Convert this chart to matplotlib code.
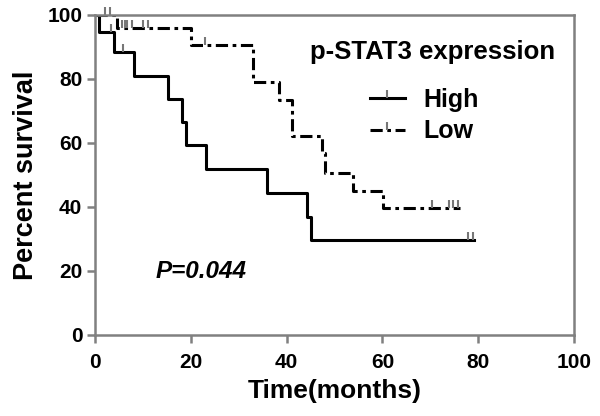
import numpy as np
import matplotlib
matplotlib.use('Agg')
import matplotlib.pyplot as plt
from matplotlib.lines import Line2D
from matplotlib.markers import TICKUP

plt.rcParams['font.family'] = ['Liberation Sans', 'DejaVu Sans']
plt.rcParams['font.weight'] = 'bold'

# Kaplan-Meier curves
times_high = [0, 0.8, 4.0, 8.1, 15.3, 18.1, 19.1, 23.2, 35.9, 44.2, 45.2, 79.0]
surv_high = [100, 94.6, 88.3, 81.0, 73.8, 66.5, 59.2, 51.8, 44.5, 37.0, 29.7, 29.7]
censor_high = [3.3, 5.9, 77.9, 78.9]

times_low = [0, 4.6, 20.0, 33.1, 38.4, 41.1, 47.3, 48.1, 53.9, 60.2, 76.2]
surv_low = [100, 95.8, 90.6, 79.2, 73.4, 62.2, 56.8, 50.7, 45.1, 39.6, 39.6]
censor_low = [2.1, 3.1, 5.6, 6.2, 6.8, 7.8, 10.0, 11.2, 23.0, 70.3, 73.8, 74.8, 75.8]

labels = ['High', 'Low']
legend_title = 'p-STAT3 expression'
x_ticks = [0, 20, 40, 60, 80, 100]
y_ticks = [0, 20, 40, 60, 80, 100]
p_text = 'P=0.044'

GREY = '#808080'
TICKC = '#777777'
DASH = (0, (4, 1.5, 1.2, 1.5))


def step_value(t, times, surv):
    idx = np.searchsorted(times, t, side='right') - 1
    return np.array(surv)[idx]


fig, ax = plt.subplots(figsize=(6, 4.16), dpi=100)
fig.subplots_adjust(left=0.158, right=0.957, bottom=0.195, top=0.964)

ax.step(times_high, surv_high, where='post', color='black', lw=2.2)
ax.step(times_low, surv_low, where='post', color='black', lw=2.2, linestyle=DASH)

ax.plot(censor_high, step_value(censor_high, times_high, surv_high), linestyle='none',
        marker=TICKUP, markersize=6, mew=1.5, color=TICKC, clip_on=False)
ax.plot(censor_low, step_value(censor_low, times_low, surv_low), linestyle='none',
        marker=TICKUP, markersize=6, mew=1.5, color=TICKC, clip_on=False)

ax.set_xlim(0, 100)
ax.set_ylim(0, 100)
ax.set_xticks(x_ticks)
ax.set_yticks(y_ticks)
ax.tick_params(axis='both', colors=GREY, width=1.8, length=6, labelsize=15,
               labelcolor='black')
ax.tick_params(axis='x', pad=7)
ax.tick_params(axis='y', pad=3)
for s in ax.spines.values():
    s.set_color(GREY)
    s.set_linewidth(1.8)

ax.set_xlabel('Time(months)', fontsize=19, fontweight='bold', labelpad=5)
ax.set_ylabel('Percent survival', fontsize=19.5, fontweight='bold', labelpad=6)

ax.text(12.7, 19.7, p_text, fontsize=17.5, fontweight='bold', style='italic',
        va='center', ha='left')

# legend title placed as plain text, entries below it
ax.text(70.4, 88.4, legend_title, fontsize=18.5, fontweight='bold',
        ha='center', va='center')
handles = [
    Line2D([], [], color='black', lw=2.2, marker=TICKUP, markersize=6, mew=1.5,
           markeredgecolor=TICKC),
    Line2D([], [], color='black', lw=2.2, linestyle=DASH, marker=TICKUP,
           markersize=6, mew=1.5, markeredgecolor=TICKC),
]
leg = ax.legend(handles, labels, frameon=False, fontsize=18, loc='upper left',
                bbox_to_anchor=(0.574, 0.772), borderpad=0, borderaxespad=0,
                handlelength=1.4, handletextpad=0.75, numpoints=1,
                labelspacing=0.3)
for t in leg.get_texts():
    t.set_fontweight('bold')

fig.savefig('out.png', dpi=100)
